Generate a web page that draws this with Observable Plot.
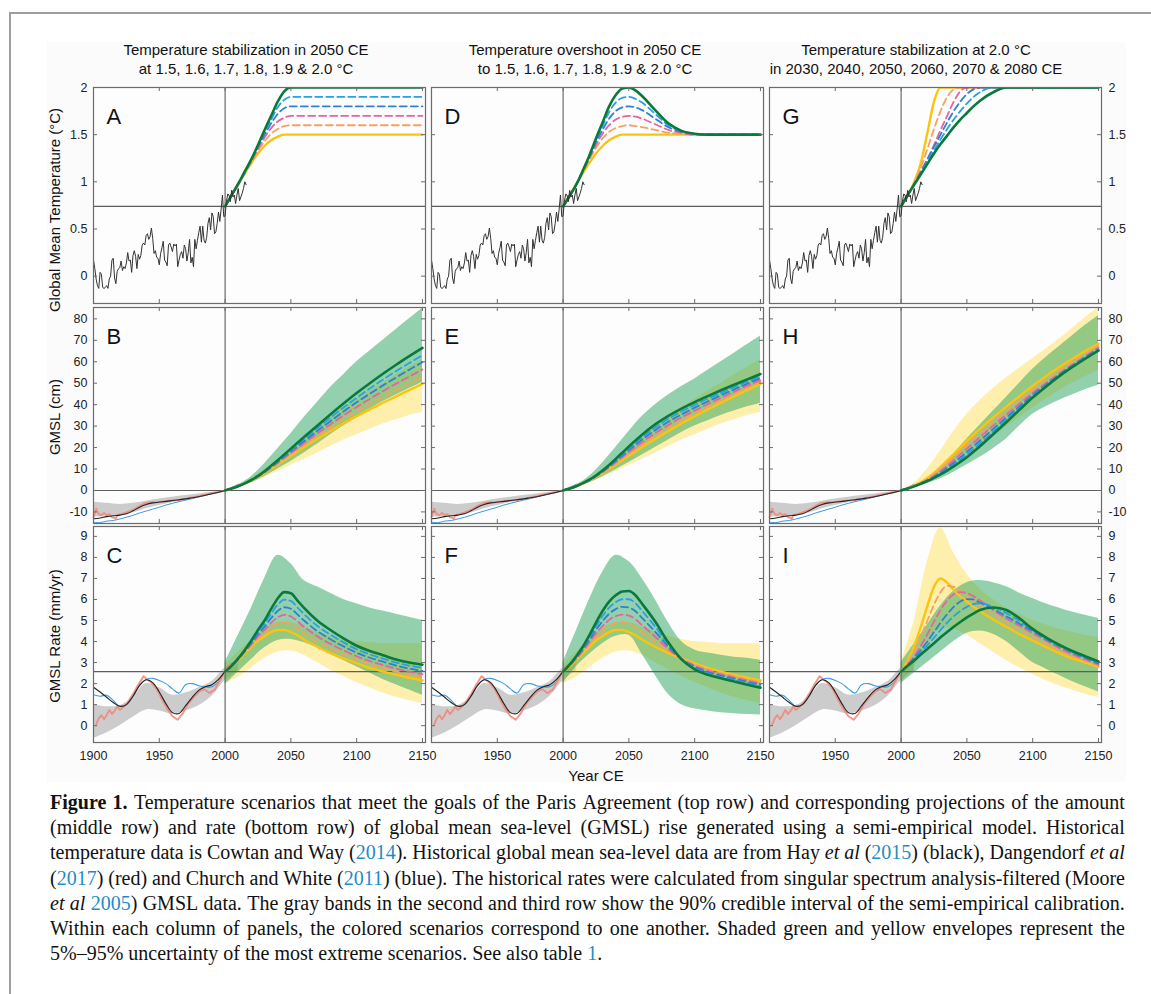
<!DOCTYPE html>
<html><head><meta charset="utf-8">
<script src="https://cdn.jsdelivr.net/npm/d3@7"></script>
<script src="https://cdn.jsdelivr.net/npm/@observablehq/plot@0.6"></script>
<style>
body{margin:0;background:#fff;}
#page{position:relative;width:1151px;height:994px;overflow:hidden;font-family:"Liberation Sans",Arial,sans-serif;color:#111;}
.border{position:absolute;left:9px;top:12px;width:1300px;height:1100px;border:2px solid #9d9d9d;box-sizing:border-box;}
.bg{position:absolute;left:47px;top:42px;width:1079px;height:740px;background:#fbfbfc;}
.title{position:absolute;width:420px;font-size:15px;line-height:19px;text-align:center;white-space:nowrap;}
.ylab{position:absolute;width:300px;height:20px;line-height:20px;font-size:15px;text-align:center;white-space:nowrap;transform:rotate(-90deg);transform-origin:50% 50%;}
.xlab{position:absolute;width:200px;font-size:15px;line-height:19px;text-align:center;}
#caption{position:absolute;left:50px;top:790px;width:1075px;font-family:"Liberation Serif","Times New Roman",serif;font-size:20px;line-height:25.2px;color:#111;}
.cl{display:flex;justify-content:space-between;white-space:nowrap;}
.cl.last{justify-content:flex-start;gap:0.25em;}
#caption a{color:#1f8bc6;text-decoration:none;}
svg.pn{position:absolute;overflow:visible;}
</style></head>
<body><div id="page">
<div class="bg"></div>
<div class="border"></div>
</div>
<script>
// ---------------- DATA ----------------
const xTicks = [1900,1950,2000,2050,2100,2150];
const yTicksTemp = [0,0.5,1,1.5,2];
const yTicksGMSL = [-10,0,10,20,30,40,50,60,70,80];
const yTicksRate = [0,1,2,3,4,5,6,7,8,9];

const colTitles = [
  ["Temperature stabilization in 2050 CE","at 1.5, 1.6, 1.7, 1.8, 1.9 & 2.0 °C"],
  ["Temperature overshoot in 2050 CE","to 1.5, 1.6, 1.7, 1.8, 1.9 & 2.0 °C"],
  ["Temperature stabilization at 2.0 °C","in 2030, 2040, 2050, 2060, 2070 & 2080 CE"]
];
const rowTitles = ["Global Mean Temperature (°C)","GMSL (cm)","GMSL Rate (mm/yr)"];
const panelLetters = [["A","B","C"],["D","E","F"],["G","H","I"]];

// historical temperature (annual, from 1900)
const tempHistStart = 1900;
const tempHist = [0.17,0.08,-0.03,-0.10,-0.13,0.04,0.02,-0.12,-0.13,-0.12,-0.10,-0.13,-0.03,0.00,0.17,0.19,-0.02,-0.08,0.05,0.08,
0.09,0.16,0.06,0.10,0.08,0.14,0.25,0.16,0.17,0.04,0.22,0.27,0.21,0.08,0.23,0.18,0.22,0.33,0.35,0.33,
0.43,0.45,0.39,0.42,0.51,0.40,0.24,0.27,0.20,0.19,0.12,0.24,0.30,0.37,0.17,0.15,0.11,0.33,0.35,0.31,
0.26,0.34,0.32,0.34,0.10,0.17,0.23,0.26,0.19,0.33,0.29,0.16,0.25,0.39,0.14,0.20,0.10,0.39,0.29,0.38,
0.46,0.53,0.36,0.53,0.38,0.35,0.41,0.56,0.62,0.49,0.67,0.63,0.45,0.47,0.56,0.68,0.58,0.71,0.86,0.63,
0.64,0.79,0.87,0.86,0.79,0.91,0.84,0.86,0.77,0.86,0.93,0.80,0.84,0.88,0.93,1.00,0.97];

// historical GMSL (cm)
const histYears = [1900,1905,1910,1915,1920,1925,1930,1935,1940,1945,1950,1955,1960,1965,1970,1975,1980,1985,1990,1995,2000,2005,2010];
const hayGMSL = [-13.2,-12.8,-12.2,-11.8,-11.5,-10.9,-9.5,-7.8,-6.5,-5.8,-5.4,-5.1,-4.7,-4.3,-3.9,-3.4,-2.9,-2.2,-1.5,-0.8,0,1.0,2.0];
const cwGMSL = [-14.8,-15.0,-14.3,-14.0,-13.3,-12.5,-11.6,-10.5,-9.6,-8.7,-7.8,-6.8,-6.0,-5.2,-4.5,-3.8,-3.0,-2.3,-1.5,-0.8,0,1.4,2.9];
const dangYearsGMSL = [1900,1902,1904,1906,1908,1910,1912,1914,1916,1917,1918,1920,1925,1930,1935,1940,1945,1950,1955,1960,1965,1970,1975,1980,1985,1990,1995,2000,2005,2010];
const dangGMSL = [-12.5,-8.5,-11.0,-11.5,-10.5,-11.5,-11.0,-12.5,-12.8,-13.4,-11.5,-11.2,-10.2,-9.0,-7.2,-5.8,-5.5,-5.3,-5.0,-4.6,-4.5,-3.9,-3.2,-2.6,-1.9,-1.3,-0.8,0,1.2,2.4];
const grayYearsGMSL = [1900,1910,1920,1930,1940,1950,1960,1970,1980,1990,2000];
const grayHiGMSL = [-5.5,-6.0,-6.5,-6.0,-5.0,-4.0,-3.2,-2.4,-1.6,-0.8,0];
const grayLoGMSL = [-12.5,-12.3,-12.0,-10.5,-8.5,-7.0,-5.6,-4.3,-3.0,-1.6,0];

// historical GMSL rate (mm/yr)
const hayRateYears = [1900,1905,1910,1915,1920,1925,1930,1935,1940,1945,1950,1955,1960,1965,1970,1975,1980,1985,1990,1995,2000,2005];
const hayRate = [1.83,1.6,1.35,1.1,0.92,1.0,1.4,1.9,2.18,2.05,1.6,1.05,0.62,0.58,0.95,1.35,1.68,1.85,1.95,2.2,2.57,2.85];
const cwRate = [1.47,1.4,1.45,1.2,0.92,1.0,1.4,1.95,2.2,2.25,2.15,2.0,1.75,1.55,1.95,2.0,1.9,1.85,1.85,2.1,2.6,2.95,3.05];
const dangRateYears = [1902,1904,1906,1908,1910,1912,1914,1916,1918,1920,1923,1926,1930,1934,1938,1941,1944,1948,1952,1956,1960,1964,1968,1972,1976,1980,1984,1988,1992,1996,2000,2004];
const dangRate = [0.05,0.35,0.5,0.3,0.5,0.75,0.55,0.7,0.9,0.75,0.9,1.1,1.5,1.95,2.35,2.2,2.05,1.75,1.25,0.8,0.45,0.28,0.6,1.05,1.35,1.6,1.75,1.55,1.7,2.15,2.6,2.9];
const grayYearsRate = [1900,1910,1920,1930,1940,1950,1960,1970,1980,1990,2000,2010];
const grayHiRate = [1.0,0.9,0.95,1.35,2.0,1.8,1.45,1.55,1.8,2.1,2.75,3.15];
const grayLoRate = [-0.6,-0.35,0.0,0.4,0.75,0.7,0.55,0.7,0.95,1.4,2.15,2.6];

// scenario projections
const projYears = [2000,2005,2010,2015,2020,2025,2030,2035,2040,2045,2050,2055,2060,2070,2080,2090,2100,2110,2120,2130,2140,2150];
const bandYears = [2000,2010,2020,2030,2040,2050,2060,2070,2080,2090,2100,2110,2120,2130,2140,2150];

// Panel A (stabilization 2050 at 1.5 ... 2.0)
const A15 = [0.74,0.86,0.97,1.09,1.20,1.30,1.38,1.44,1.48,1.50,1.50,1.50,1.50,1.50,1.50,1.50,1.50,1.50,1.50,1.50,1.50,1.50];
const A16 = [0.74,0.86,0.97,1.09,1.21,1.33,1.43,1.51,1.56,1.59,1.60,1.60,1.60,1.60,1.60,1.60,1.60,1.60,1.60,1.60,1.60,1.60];
const A17 = [0.74,0.86,0.97,1.10,1.22,1.35,1.47,1.57,1.64,1.68,1.70,1.70,1.70,1.70,1.70,1.70,1.70,1.70,1.70,1.70,1.70,1.70];
const A18 = [0.74,0.86,0.98,1.10,1.23,1.37,1.50,1.62,1.72,1.78,1.80,1.80,1.80,1.80,1.80,1.80,1.80,1.80,1.80,1.80,1.80,1.80];
const A19 = [0.74,0.86,0.98,1.11,1.24,1.38,1.53,1.66,1.79,1.87,1.90,1.90,1.90,1.90,1.90,1.90,1.90,1.90,1.90,1.90,1.90,1.90];
const A20 = [0.74,0.86,0.98,1.11,1.24,1.39,1.55,1.70,1.85,1.96,2.00,2.00,2.00,2.00,2.00,2.00,2.00,2.00,2.00,2.00,2.00,2.00];
// Panel D (overshoot in 2050, back to 1.5)
const D16 = [0.74,0.85,0.97,1.11,1.24,1.36,1.46,1.53,1.57,1.59,1.60,1.59,1.58,1.55,1.52,1.51,1.50,1.50,1.50,1.50,1.50,1.50];
const D17 = [0.74,0.85,0.97,1.11,1.25,1.39,1.51,1.60,1.66,1.69,1.70,1.69,1.67,1.61,1.55,1.52,1.50,1.50,1.50,1.50,1.50,1.50];
const D18 = [0.74,0.85,0.97,1.11,1.26,1.42,1.55,1.67,1.75,1.79,1.80,1.79,1.76,1.67,1.58,1.53,1.51,1.50,1.50,1.50,1.50,1.50];
const D19 = [0.74,0.85,0.97,1.12,1.27,1.44,1.59,1.74,1.84,1.89,1.90,1.88,1.84,1.72,1.60,1.54,1.51,1.50,1.50,1.50,1.50,1.50];
const D20 = [0.74,0.85,0.97,1.12,1.28,1.46,1.63,1.80,1.92,1.99,2.00,1.97,1.91,1.76,1.62,1.54,1.51,1.50,1.50,1.50,1.50,1.50];
// Panel G (2.0 reached in 2030 ... 2080)
const G2030 = [0.74,0.85,1.00,1.20,1.52,1.85,2.00,2.00,2.00,2.00,2.00,2.00,2.00,2.00,2.00,2.00,2.00,2.00,2.00,2.00,2.00,2.00];
const G2040 = [0.74,0.85,0.99,1.15,1.35,1.56,1.75,1.90,1.98,2.00,2.00,2.00,2.00,2.00,2.00,2.00,2.00,2.00,2.00,2.00,2.00,2.00];
const G2060 = [0.74,0.86,0.98,1.10,1.24,1.37,1.50,1.63,1.75,1.85,1.93,1.98,2.00,2.00,2.00,2.00,2.00,2.00,2.00,2.00,2.00,2.00];
const G2070 = [0.74,0.86,0.97,1.09,1.21,1.33,1.45,1.56,1.66,1.75,1.83,1.90,1.95,2.00,2.00,2.00,2.00,2.00,2.00,2.00,2.00,2.00];
const G2080 = [0.74,0.86,0.97,1.08,1.19,1.30,1.40,1.49,1.58,1.66,1.73,1.80,1.86,1.95,2.00,2.00,2.00,2.00,2.00,2.00,2.00,2.00];

// Panel B (GMSL, cm)
const B15 = [0,0.9,2.0,3.2,4.6,6.3,8.1,10.1,12.1,14.2,16.2,18.2,20.2,24.0,27.7,31.3,34.6,37.8,40.9,43.9,46.8,49.7];
const B16 = [0,0.9,2.0,3.2,4.7,6.4,8.3,10.4,12.5,14.7,16.9,19.0,21.1,25.2,29.2,33.1,36.8,40.2,43.6,46.8,50.0,53.1];
const B17 = [0,0.9,2.0,3.2,4.7,6.5,8.5,10.7,12.9,15.2,17.5,19.8,22.1,26.5,30.8,35.0,38.9,42.7,46.3,49.8,53.1,56.4];
const B18 = [0,0.9,2.0,3.3,4.8,6.6,8.6,10.9,13.3,15.8,18.2,20.6,23.0,27.7,32.3,36.8,41.1,45.1,49.0,52.7,56.3,59.8];
const B19 = [0,0.9,2.0,3.3,4.8,6.7,8.8,11.2,13.7,16.3,18.8,21.4,24.0,29.0,33.9,38.7,43.2,47.6,51.7,55.7,59.4,63.1];
const B20 = [0,0.9,2.0,3.3,4.9,6.8,9.0,11.5,14.1,16.8,19.5,22.2,24.9,30.2,35.4,40.5,45.4,50.0,54.4,58.6,62.6,66.5];
const B_yHi = [0,2.4,5.5,9.8,14.5,19.5,24.5,29.5,34,38.5,42.5,46.5,50,54,57.5,61];
const B_yLo = [0,1.6,3.5,6,8.8,11.8,14.5,17.5,20.5,23.5,26,28.5,31,33,35,36.5];
const B_gHi = [0,2.6,6.5,12.5,19.5,26.5,34,41,48,54,60,65,70,75,80,85];
const B_gLo = [0,1.6,3.6,6.5,10,13.5,17.5,21.5,26,30,34,38,41.5,44.5,47.5,50.5];
// Panel E
const E16 = [0,0.9,2.0,3.2,4.7,6.4,8.3,10.5,12.6,14.9,17.1,19.2,21.4,25.4,29.1,32.7,35.9,39.0,42.1,45.0,47.8,50.6];
const E17 = [0,0.9,2.0,3.3,4.8,6.6,8.6,10.8,13.1,15.6,17.9,20.2,22.5,26.7,30.5,34.1,37.2,40.3,43.2,46.1,48.8,51.5];
const E18 = [0,0.9,2.0,3.3,4.8,6.7,8.8,11.2,13.7,16.2,18.8,21.3,23.7,28.1,32.0,35.4,38.6,41.5,44.4,47.1,49.8,52.5];
const E19 = [0,0.9,2.0,3.4,4.9,6.9,9.1,11.5,14.2,16.9,19.6,22.3,24.8,29.4,33.4,36.8,39.9,42.8,45.5,48.2,50.8,53.4];
const E20 = [0,0.9,2.0,3.4,5.0,7.0,9.3,11.9,14.7,17.6,20.5,23.3,26.0,30.8,34.8,38.2,41.2,44.0,46.7,49.3,51.8,54.3];
const E_gHi = [0,2.6,6.6,12.8,20,27.5,34.5,40,44.5,48.5,52,56,60,64,68,72];
const E_gLo = [0,1.6,3.6,6.4,9.7,13,16.5,20,23.5,27,30,32.5,35,37,39,40.5];
// Panel H
const H2030 = [0,1.0,2.2,3.8,5.8,8.2,11.0,14.0,17.0,20.0,23.0,25.9,28.7,34.0,39.1,44.0,48.7,53.2,57.4,61.3,65.0,68.4];
const H2040 = [0,1.0,2.1,3.6,5.4,7.6,10.1,12.8,15.6,18.4,21.3,24.1,26.8,32.1,37.3,42.3,47.1,51.6,55.9,59.9,63.8,67.4];
const H2060 = [0,0.9,2.0,3.2,4.7,6.4,8.4,10.6,12.9,15.4,18.0,20.6,23.3,28.7,34.0,39.3,44.5,49.3,53.9,58.1,62.1,65.9];
const H2070 = [0,0.9,1.9,3.1,4.5,6.1,7.9,9.9,12.0,14.3,16.7,19.3,21.9,27.4,32.9,38.4,43.9,48.9,53.6,57.8,61.8,65.5];
const H2080 = [0,0.9,1.9,3.1,4.4,5.9,7.5,9.3,11.2,13.3,15.5,18.0,20.6,26.2,31.8,37.6,43.3,48.4,53.2,57.5,61.5,65.2];
const H_yHi = [0,3.5,10,18.5,27.5,35.5,42,47.5,52.5,57,61.5,66,70.5,75.5,80.5,85.5];
const H_yLo = [0,1.8,4.5,8,12,16,20.5,25,29.5,34,38.5,42.5,46.5,50,53,56];
const H_gHi = [0,2.2,5.5,10.5,17,24,30.5,37,43.5,50,56.5,62,67,72,77,81.5];
const H_gLo = [0,1.5,3.3,5.5,8.5,12,15.5,19.5,24,30,35.5,39,42,44.5,47,49];

// Panel C (rate, mm/yr)
const C15 = [2.57,2.82,3.12,3.45,3.75,4.05,4.25,4.45,4.55,4.55,4.45,4.30,4.10,3.75,3.45,3.20,2.97,2.75,2.57,2.42,2.28,2.15];
const C16 = [2.57,2.83,3.14,3.48,3.81,4.15,4.40,4.67,4.85,4.91,4.82,4.63,4.40,4.00,3.67,3.39,3.14,2.91,2.73,2.57,2.42,2.30];
const C17 = [2.57,2.83,3.15,3.51,3.87,4.25,4.55,4.89,5.15,5.27,5.19,4.96,4.70,4.25,3.89,3.58,3.30,3.07,2.88,2.71,2.57,2.45];
const C18 = [2.57,2.84,3.17,3.54,3.93,4.35,4.70,5.11,5.45,5.63,5.56,5.29,5.00,4.50,4.11,3.77,3.47,3.23,3.04,2.86,2.71,2.60];
const C19 = [2.57,2.84,3.18,3.57,3.99,4.45,4.85,5.33,5.75,5.99,5.93,5.62,5.30,4.75,4.33,3.96,3.63,3.39,3.19,3.00,2.86,2.75];
const C20 = [2.57,2.85,3.20,3.60,4.05,4.55,5.00,5.55,6.05,6.35,6.30,5.95,5.60,5.00,4.55,4.15,3.80,3.55,3.35,3.15,3.00,2.90];
const C_gHi = [3.0,4.3,5.6,7.0,8.1,7.7,6.9,6.6,6.3,6.0,5.8,5.6,5.45,5.3,5.15,5.0];
const C_gLo = [1.95,2.55,3.15,3.7,4.05,4.1,3.95,3.7,3.4,3.1,2.8,2.5,2.2,1.95,1.7,1.45];
const C_yHi = [2.9,3.5,4.1,4.6,4.9,4.9,4.7,4.45,4.25,4.1,4.0,3.95,3.9,3.9,3.9,3.9];
const C_yLo = [2.0,2.3,2.75,3.2,3.5,3.55,3.35,3.0,2.65,2.35,2.05,1.8,1.55,1.35,1.2,1.05];
// Panel F
const F16 = [2.57,2.84,3.16,3.51,3.86,4.22,4.49,4.74,4.88,4.92,4.84,4.68,4.44,3.99,3.55,3.19,2.91,2.68,2.51,2.36,2.21,2.08];
const F17 = [2.57,2.85,3.19,3.57,3.97,4.39,4.73,5.03,5.21,5.28,5.23,5.06,4.78,4.23,3.65,3.18,2.85,2.62,2.44,2.29,2.15,2.01];
const F18 = [2.57,2.87,3.23,3.63,4.08,4.56,4.97,5.32,5.54,5.65,5.62,5.44,5.12,4.47,3.75,3.17,2.80,2.55,2.38,2.23,2.08,1.94];
const F19 = [2.57,2.88,3.26,3.69,4.19,4.73,5.21,5.61,5.87,6.01,6.01,5.82,5.46,4.71,3.85,3.16,2.74,2.49,2.31,2.16,2.02,1.87];
const F20 = [2.57,2.90,3.30,3.75,4.30,4.90,5.45,5.90,6.20,6.38,6.40,6.20,5.80,4.95,3.95,3.15,2.68,2.42,2.25,2.10,1.95,1.80];
const F_gHi = [3.0,4.5,6.0,7.3,8.1,7.8,7.0,6.0,4.9,4.0,3.6,3.45,3.35,3.25,3.2,3.1];
const F_gLo = [2.0,2.8,3.4,3.9,4.25,4.3,3.4,2.4,1.5,1.0,0.8,0.7,0.62,0.57,0.53,0.5];
// Panel I
const I2030 = [2.57,3.10,3.80,4.70,5.70,6.60,7.00,6.80,6.45,6.15,5.90,5.65,5.45,5.05,4.70,4.35,4.05,3.75,3.45,3.20,3.00,2.80];
const I2040 = [2.57,3.00,3.55,4.25,5.00,5.75,6.35,6.65,6.60,6.40,6.15,5.90,5.70,5.30,4.90,4.55,4.20,3.90,3.58,3.30,3.08,2.85];
const I2050 = [2.57,2.90,3.30,3.80,4.35,4.95,5.50,5.95,6.25,6.35,6.30,6.15,5.95,5.50,5.10,4.75,4.40,4.05,3.70,3.40,3.15,2.90];
const I2060 = [2.57,2.88,3.22,3.60,4.00,4.45,4.90,5.30,5.65,5.90,6.02,6.00,5.85,5.55,5.20,4.85,4.50,4.12,3.78,3.48,3.22,2.95];
const I2070 = [2.57,2.86,3.15,3.48,3.82,4.18,4.55,4.90,5.20,5.45,5.65,5.78,5.82,5.65,5.35,4.98,4.55,4.17,3.82,3.52,3.26,3.00];
const I2080 = [2.57,2.85,3.10,3.38,3.65,3.92,4.20,4.45,4.70,4.93,5.15,5.33,5.50,5.62,5.50,5.10,4.60,4.20,3.85,3.55,3.30,3.05];
const I_gHi = [3.0,3.9,4.8,5.7,6.4,6.8,6.9,6.8,6.6,6.3,6.05,5.8,5.6,5.4,5.25,5.1];
const I_gLo = [2.0,2.5,3.0,3.5,4.0,4.4,4.5,4.35,4.0,3.5,3.0,2.7,2.4,2.1,1.85,1.6];
const I_yHi = [3.0,5.0,7.8,9.4,8.2,7.2,6.5,6.0,5.6,5.3,5.0,4.8,4.6,4.45,4.3,4.2];
const I_yLo = [2.0,2.8,3.8,4.6,4.6,4.3,3.9,3.5,3.1,2.75,2.45,2.15,1.9,1.7,1.5,1.35];

const refTemp = 0.74, refGMSL = 0, refRate = 2.57, refYear = 2000;

const captionLines = [
 "<b>Figure</b> <b>1.</b> Temperature scenarios that meet the goals of the Paris Agreement (top row) and corresponding projections of the amount",
 "(middle row) and rate (bottom row) of global mean sea-level (GMSL) rise generated using a semi-empirical model. Historical",
 "temperature data is Cowtan and Way (<a>2014</a>). Historical global mean sea-level data are from Hay <i>et</i> <i>al</i> (<a>2015</a>) (black), Dangendorf <i>et</i> <i>al</i>",
 "(<a>2017</a>) (red) and Church and White (<a>2011</a>) (blue). The historical rates were calculated from singular spectrum analysis-filtered (Moore",
 "<i>et</i> <i>al</i> <a>2005</a>) GMSL data. The gray bands in the second and third row show the 90% credible interval of the semi-empirical calibration.",
 "Within each column of panels, the colored scenarios correspond to one another. Shaded green and yellow envelopes represent the",
 "5%–95% uncertainty of the most extreme scenarios. See also table <a>1</a>."
];

// ---------------- LAYOUT / STYLE ----------------
const W = 332, H = 216, ML = 44, MR = 44, MT = 2, MB = 30;
const colLeft = [93, 431, 769];
const rowTop = [87, 306.5, 526];
const xDomain = [1900, 2152.3];
const yDomains = [[-0.29, 2.0], [-15.4, 85.3], [-0.8, 9.47]];
const yTicks = [yTicksTemp, yTicksGMSL, yTicksRate];
const refYs = [refTemp, refGMSL, refRate];
const scenStyle = [
  {stroke:"#fcc30f", dash:null, w:2.4},
  {stroke:"#f6a062", dash:"7,4", w:1.8},
  {stroke:"#e9629c", dash:"7,4", w:1.8},
  {stroke:"#2e80d4", dash:"7,4", w:1.8},
  {stroke:"#2aa0e2", dash:"7,4", w:1.8},
  {stroke:"#0a7a3c", dash:null, w:2.6}
];
const frameColor = "#6b6b6b";

// scenario sets per [col][row]
const scen = [
  [[A15,A16,A17,A18,A19,A20],[B15,B16,B17,B18,B19,B20],[C15,C16,C17,C18,C19,C20]],
  [[A15,D16,D17,D18,D19,D20],[B15,E16,E17,E18,E19,E20],[C15,F16,F17,F18,F19,F20]],
  [[G2030,G2040,A20,G2060,G2070,G2080],[H2030,H2040,B20,H2060,H2070,H2080],[I2030,I2040,I2050,I2060,I2070,I2080]]
];
const bands = [
  [null,{yLo:B_yLo,yHi:B_yHi,gLo:B_gLo,gHi:B_gHi},{yLo:C_yLo,yHi:C_yHi,gLo:C_gLo,gHi:C_gHi}],
  [null,{yLo:B_yLo,yHi:B_yHi,gLo:E_gLo,gHi:E_gHi},{yLo:C_yLo,yHi:C_yHi,gLo:F_gLo,gHi:F_gHi}],
  [null,{yLo:H_yLo,yHi:H_yHi,gLo:H_gLo,gHi:H_gHi},{yLo:I_yLo,yHi:I_yHi,gLo:I_gLo,gHi:I_gHi}]
];

const pts = (xs, ys) => xs.map((x,i)=>({x, y: ys[i]}));
const band = (xs, lo, hi) => xs.map((x,i)=>({x, lo: lo[i], hi: hi[i]}));
const tempHistData = tempHist.map((y,i)=>({x: tempHistStart + i, y}));

function makePanel(c, r) {
  const marks = [Plot.frame({fill:"#fdfdfe"})];
  const b = bands[c][r];
  if (r === 1) {
    marks.push(Plot.areaY(band(grayYearsGMSL, grayLoGMSL, grayHiGMSL), {x:"x", y1:"lo", y2:"hi", fill:"#cccccc", curve:"catmull-rom"}));
  }
  if (r === 2) {
    marks.push(Plot.areaY(band(grayYearsRate, grayLoRate, grayHiRate), {x:"x", y1:"lo", y2:"hi", fill:"#cccccc", curve:"catmull-rom"}));
  }
  if (b) {
    marks.push(Plot.areaY(band(bandYears, b.yLo, b.yHi), {x:"x", y1:"lo", y2:"hi", fill:"#ffdc3c", fillOpacity:0.42, curve:"catmull-rom", clip:true}));
    marks.push(Plot.areaY(band(bandYears, b.gLo, b.gHi), {x:"x", y1:"lo", y2:"hi", fill:"#1c9f55", fillOpacity:0.47, curve:"catmull-rom", clip:true}));
  }
  marks.push(Plot.ruleY([refYs[r]], {stroke:"#5e5e5e", strokeWidth:1.1}));
  marks.push(Plot.ruleX([refYear], {stroke:"#5e5e5e", strokeWidth:1.1}));
  if (r === 1) {
    marks.push(Plot.line(pts(histYears, cwGMSL), {x:"x", y:"y", stroke:"#3a9be0", strokeWidth:1, curve:"catmull-rom"}));
    marks.push(Plot.line(pts(dangYearsGMSL, dangGMSL), {x:"x", y:"y", stroke:"#f08a7c", strokeWidth:1.8, strokeOpacity:0.9}));
    marks.push(Plot.line(pts(histYears.slice(0, hayGMSL.length), hayGMSL), {x:"x", y:"y", stroke:"#222", strokeWidth:1.1, curve:"catmull-rom"}));
  }
  if (r === 2) {
    marks.push(Plot.line(pts(histYears, cwRate), {x:"x", y:"y", stroke:"#3a9be0", strokeWidth:1.1, curve:"catmull-rom"}));
    marks.push(Plot.line(pts(dangRateYears, dangRate), {x:"x", y:"y", stroke:"#f08a7c", strokeWidth:1.9, strokeOpacity:0.9}));
    marks.push(Plot.line(pts(hayRateYears, hayRate), {x:"x", y:"y", stroke:"#222", strokeWidth:1.1, curve:"catmull-rom"}));
  }
  scen[c][r].forEach((vals, k) => {
    const s = scenStyle[k];
    marks.push(Plot.line(pts(projYears, vals), {x:"x", y:"y", stroke:s.stroke, strokeWidth:s.w, strokeDasharray:s.dash, curve:"monotone-x", clip:true}));
  });
  if (r === 0) {
    marks.push(Plot.line(tempHistData, {x:"x", y:"y", stroke:"#333", strokeWidth:1}));
  }
  marks.push(Plot.frame({stroke:frameColor, strokeWidth:1.2}));
  // inward ticks on all four sides
  marks.push(Plot.tickY(yTicks[r], {y:d=>d, insetRight: W-4, stroke:frameColor}));
  marks.push(Plot.tickY(yTicks[r], {y:d=>d, insetLeft: W-4, stroke:frameColor}));
  marks.push(Plot.tickX(xTicks, {x:d=>d, insetBottom: H-4, stroke:frameColor}));
  marks.push(Plot.tickX(xTicks, {x:d=>d, insetTop: H-4, stroke:frameColor}));
  marks.push(Plot.text([panelLetters[c][r]], {text:d=>d, frameAnchor:"top-left", dx:13, dy:21, lineAnchor:"top", textAnchor:"start", fontSize:22, fill:"#111"}));
  if (c === 0) marks.push(Plot.axisY(yTicks[r], {anchor:"left", tickSize:0, tickPadding:6, tickFormat:d=>String(d), fontSize:12.5, fill:"#222", label:null}));
  if (c === 2) marks.push(Plot.axisY(yTicks[r], {anchor:"right", tickSize:0, tickPadding:7, tickFormat:d=>String(d), fontSize:12.5, fill:"#222", label:null}));
  if (r === 2) marks.push(Plot.axisX(c === 0 ? xTicks : xTicks.slice(1), {anchor:"bottom", tickSize:0, tickPadding:9, tickFormat:d=>String(d), fontSize:12.5, fill:"#222", label:null}));

  const svg = Plot.plot({
    width: W + ML + MR, height: H + MT + MB,
    marginLeft: ML, marginRight: MR, marginTop: MT, marginBottom: MB,
    x: {domain: xDomain, axis: null},
    y: {domain: yDomains[r], axis: null},
    style: {background:"transparent", fontFamily:"'Liberation Sans', Arial, sans-serif", fontSize:"12.5px", overflow:"visible"},
    marks
  });
  svg.classList.add("pn");
  svg.style.left = (colLeft[c] - ML) + "px";
  svg.style.top = (rowTop[r] - MT) + "px";
  svg.style.maxWidth = "none";
  return svg;
}

const page = document.getElementById("page");
for (let c = 0; c < 3; c++) for (let r = 0; r < 3; r++) page.appendChild(makePanel(c, r));

// column titles
const titleCenters = [246, 585, 916];
colTitles.forEach((t, i) => {
  const d = document.createElement("div");
  d.className = "title";
  d.style.left = (titleCenters[i] - 210) + "px";
  d.style.top = "40px";
  d.innerHTML = t[0] + "<br>" + t[1];
  page.appendChild(d);
});
// row titles (vertical)
const rowTitleCenters = [210, 417, 636];
rowTitles.forEach((t, i) => {
  const d = document.createElement("div");
  d.className = "ylab";
  d.style.left = (55 - 150) + "px";
  d.style.top = (rowTitleCenters[i] - 10) + "px";
  d.textContent = t;
  page.appendChild(d);
});
const xl = document.createElement("div");
xl.className = "xlab";
xl.style.left = (596 - 100) + "px";
xl.style.top = "766px";
xl.textContent = "Year CE";
page.appendChild(xl);

// caption
const cap = document.createElement("div");
cap.id = "caption";
captionLines.forEach((line, i) => {
  const d = document.createElement("div");
  d.className = "cl" + (i === captionLines.length - 1 ? " last" : "");
  line.split(" ").forEach(w => {
    const s = document.createElement("span");
    s.innerHTML = w;
    d.appendChild(s);
  });
  cap.appendChild(d);
});
page.appendChild(cap);
</script>
</body></html>
